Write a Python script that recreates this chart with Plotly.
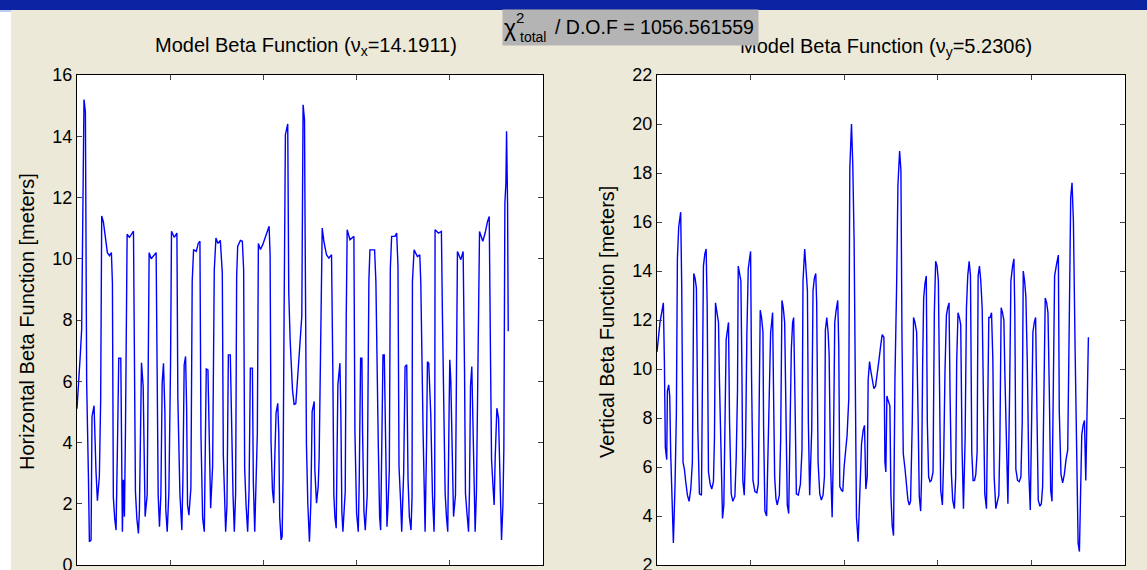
import plotly.graph_objs as go

# horizontal beta function (model)
sx = [0, 0.7, 2.2, 3.6, 5.0, 6.1, 7.5, 9.0, 10.4, 12.2, 13.3, 15.1, 16.1, 18.3, 19.4, 20.4, 21.9, 24.0, 25.4, 26.5,
      28.3, 30.1, 32.6, 34.8, 36.9, 38.0, 39.0, 40.5, 41.9, 43.4, 44.8, 47.0, 47.7, 48.7, 49.8, 50.9, 52.0, 53.8, 56.3, 60.6,
      61.3, 62.7, 64.2, 65.9, 67.0, 68.1, 69.2, 71.0, 72.0, 73.1, 75.3, 76.3, 77.4, 79.6, 84.9, 86.0, 87.1, 88.5, 90.0, 91.4,
      92.8, 94.3, 95.3, 96.8, 98.6, 100.4, 101.4, 104.3, 107.2, 108.2, 110.4, 112.5, 113.6, 115.0, 116.5, 117.6, 118.6, 120.1, 122.2, 123.6,
      125.1, 128.0, 130.1, 131.9, 133.0, 134.8, 136.6, 137.6, 138.7, 140.5, 141.9, 143.4, 145.5, 147.3, 149.1, 151.2, 153.8, 155.9, 157.0, 158.4,
      159.5, 160.9, 162.4, 164.5, 165.9, 167.4, 168.8, 170.2, 171.3, 172.4, 175.3, 177.4, 178.8, 179.9, 181.4, 183.1, 184.6, 186.0, 188.2, 189.2,
      190.7, 192.1, 193.5, 194.6, 196.8, 199.3, 201.8, 204.6, 206.1, 207.2, 208.2, 209.7, 211.1, 212.2, 213.6, 215.4, 216.5, 217.5, 219.0, 220.1,
      221.1, 222.2, 223.6, 226.1, 227.2, 228.7, 229.7, 231.2, 233.0, 234.8, 236.2, 238.0, 239.8, 241.2,
      242.6, 244.1, 244.8, 246.2, 247.7, 249.4, 250.9, 252.3, 254.5, 255.2, 257.0, 258.8, 259.8, 261.6, 263.1, 264.9, 267.7, 270.2, 273.1, 274.5,
      275.6, 276.7, 278.1, 279.9, 282.1, 283.1, 284.2, 285.3, 287.8, 288.9, 289.9, 292.8, 297.1, 298.2, 300.0, 301.8, 302.8, 304.3, 305.7, 306.4,
      307.9, 309.3, 311.4, 313.2, 314.3, 319.3, 320.7, 323.3, 324.7, 325.8, 327.2, 328.3, 329.7, 331.1, 332.6, 333.7, 335.1, 336.2, 337.6, 341.2,
      343.0, 344.4, 345.5, 347.3, 348.4, 350.5, 352.0, 353.8, 355.2, 356.6, 358.4, 359.5, 359.9, 361.7, 365.3, 367.8, 368.9, 371.4, 372.4, 373.5,
      375.0, 376.0, 377.4, 379.6, 381.4, 383.1, 383.8, 384.2, 387.8, 391.0, 392.1, 393.9, 395.0, 396.4, 397.8, 399.3, 400.0, 401.1, 402.9, 404.0,
      406.1, 407.2, 408.2, 411.8, 414.3, 415.8, 416.8, 418.3, 420.1, 421.1, 422.2, 423.6, 424.7, 426.2, 427.2, 428.6, 430.8, 431.9, 435.4, 437.9,
      440.5, 442.3, 443.7, 444.8, 446.6, 447.6, 448.7, 450.5, 452.3, 453.7, 455.5, 457.0, 458.0, 459.1, 460.2, 460.9, 462.0, 462.7]
betax = [5.1, 5.4, 6.15, 6.9, 7.7, 11.05, 15.2, 14.8, 5.9, 3.0, 0.76, 0.82, 4.85, 5.2, 3.8, 3.05, 2.1, 2.9, 5.4, 11.4,
         11.2, 10.7, 10.2, 10.1, 10.2, 9.2, 2.2, 1.5, 1.14, 3.87, 6.75, 6.75, 2.83, 1.09, 2.78, 1.58, 4.36, 10.8, 10.7, 10.9,
         8.1, 2.4, 1.53, 1.03, 1.8, 4.96, 6.6, 5.83, 2.78, 1.58, 2.29, 6.2, 10.2, 10.0, 10.2, 6.3, 2.29, 1.25, 2.29, 5.94,
         6.59, 5.0, 1.8, 1.09, 2.4, 6.64, 10.9, 10.7, 10.84, 5.45, 2.34, 1.14, 2.72, 6.54, 6.81, 5.17, 1.96, 1.63, 2.51, 9.26,
         10.3, 10.24, 10.5, 10.57, 4.25, 1.53, 1.09, 3.65, 6.4, 6.37, 4.19, 1.85, 3.21, 9.64, 10.68, 10.5, 10.6, 9.53, 3.59, 1.96,
         1.09, 1.96, 6.86, 6.86, 3.92, 2.29, 1.09, 2.34, 9.42, 10.4, 10.6, 10.57, 9.64, 3.16, 1.96, 1.09, 2.4, 6.43, 6.43, 2.72,
         1.09, 2.94, 4.3, 10.5, 10.3, 10.46, 10.68, 10.9, 11.06, 10.13, 4.03, 2.45, 2.02, 3.49, 4.96, 5.28, 4.3, 1.58, 0.82, 0.93,
         2.89, 8.17, 14.05, 14.4, 8.9, 7.35, 6.54, 5.72, 5.23, 5.28, 5.88, 6.7, 7.52, 8.12,
         15.03, 14.54, 10.73, 3.92, 1.96, 0.76, 2.02, 5.01, 5.34, 3.1, 2.02, 2.56, 3.49, 7.57, 11.0, 10.57, 10.13, 10.02, 10.13, 6.32,
         2.29, 1.58, 1.2, 5.88, 6.59, 4.96, 1.74, 1.09, 2.4, 8.12, 10.95, 10.62, 10.73, 4.36, 1.69, 1.09, 2.72, 6.75, 6.75, 4.36,
         1.74, 1.14, 2.29, 9.31, 10.29, 10.29, 9.26, 3.87, 1.58, 1.14, 3.87, 6.86, 6.86, 3.81, 1.25, 1.91, 3.1, 9.69, 10.73, 10.73,
         10.84, 9.75, 3.21, 2.02, 1.09, 3.0, 6.48, 6.54, 2.78, 1.58, 1.14, 2.23, 9.26, 10.29, 10.07, 10.13, 9.2, 4.25, 1.8, 1.09,
         3.81, 6.64, 6.59, 4.9, 2.29, 1.09, 2.3, 10.95, 10.84, 10.89, 8.12, 4.47, 2.34, 1.58, 1.09, 5.17, 6.7, 5.99, 2.78, 1.58,
         2.29, 6.21, 10.24, 9.97, 10.24, 6.37, 2.34, 1.74, 1.09, 2.4, 5.83, 6.48, 4.9, 2.23, 1.09, 2.4, 8.06, 10.89, 10.57, 10.84,
         11.22, 11.38, 6.7, 3.43, 2.45, 1.96, 3.49, 5.12, 4.79, 2.56, 0.82, 1.96, 3.81, 11.82, 12.47, 14.16, 11.76, 7.63]

# vertical beta function (model)
sy = [0, 1.4, 3.2, 5.0, 6.8, 7.9, 8.9, 10.4, 11.1, 12.5, 13.6, 14.6, 16.1, 17.5, 19.3, 20.7, 21.8, 23.2, 25.3, 26.4,
      27.8, 29.3, 30.7, 32.5, 34.3, 36.1, 37.8, 39.3, 40.7, 42.1, 43.6, 45.3, 47.5, 48.6, 49.6, 51.1, 52.5, 53.6, 55.0, 56.8,
      58.5, 60.3, 61.4, 62.5, 64.3, 65.7, 66.8, 68.5, 70.0, 71.4, 72.8, 73.9, 75.3, 76.4, 77.5, 79.3, 81.0, 83.2, 84.6, 86.0,
      86.8, 88.2, 89.6, 90.7, 91.7, 93.2, 94.6, 96.0, 97.5, 98.9, 100.0, 101.0, 102.5, 104.6, 106.7, 108.2, 109.2, 110.3, 111.7, 113.2,
      113.9, 115.3, 117.1, 118.5, 120.0, 121.4, 122.5, 123.5, 124.6, 125.7, 127.1, 128.5, 130.7, 132.1, 133.5, 134.9, 136.4, 137.4, 139.2, 140.7,
      142.1, 143.5, 144.9, 146.0, 147.4, 148.9, 151.0, 153.2, 154.9, 156.0, 157.8, 159.2, 160.7, 161.7, 163.1, 165.3, 166.7, 168.1, 169.6, 170.6,
      172.1, 173.9, 175.6, 177.4, 178.9, 179.9, 181.4, 182.8, 183.9, 185.3, 187.1, 188.5, 189.9, 191.4, 193.1, 194.2, 195.3, 197.1, 198.5, 199.9,
      201.3, 203.1, 204.9, 206.0, 207.8, 209.2, 210.6, 211.7, 213.1, 214.9, 216.7, 218.5, 220.3, 221.7, 223.1, 224.6, 225.6, 227.1, 228.1, 229.9,
      231.7, 233.5, 235.3, 237.1, 238.8, 240.6, 242.4, 243.5, 244.5, 245.6, 247.0, 248.8, 249.9, 251.3, 252.7, 254.2, 256.0, 257.4, 259.2, 260.6,
      261.7, 263.1, 264.9, 266.3, 268.1, 269.5, 270.9, 272.7, 274.1, 275.6, 277.4, 278.8, 280.2, 281.7, 282.7, 283.8, 284.9, 286.3, 287.7, 288.8,
      290.2, 291.7, 293.1, 294.9, 296.3, 297.7, 299.2, 300.6, 302.0, 303.1, 304.9, 306.3, 307.7, 309.2, 310.6, 312.0, 313.1, 314.5, 315.9, 317.7,
      319.1, 320.2, 321.6, 323.1, 324.5, 325.9, 327.4, 329.2, 330.6, 332.0, 333.5, 334.9, 336.3, 337.7, 339.2, 340.6, 342.0, 343.1, 344.5, 345.9,
      347.4, 348.8, 350.2, 352.0, 353.4, 354.5, 355.9, 357.4, 358.8, 360.2, 362.0, 363.8, 365.2, 366.3, 367.7, 369.1, 370.6, 371.6, 373.1, 374.9,
      376.7, 378.1, 379.9, 381.3, 382.3, 383.4, 385.2, 387.0, 388.8, 390.2, 391.3, 392.7, 394.1, 395.6, 397.3, 398.8, 400.2, 401.6, 403.1, 404.5,
      405.9, 407.3, 409.1, 410.6, 412.0, 413.4, 414.8, 416.3, 417.7, 419.1, 420.6, 422.0, 423.4, 424.8, 427.0, 428.8, 429.8, 431.6, 433.4, 435.2,
      437.0, 438.8, 440.6, 442.0, 443.4, 444.9, 446.7, 448.1, 449.9, 451.3, 452.4, 453.8, 455.2, 456.7, 458.1, 459.5, 460.9]
betay = [10.7, 11.3, 11.9, 12.3, 12.7, 10.3, 6.8, 6.3, 9.1, 9.35, 8.9, 6.6, 4.8, 2.9, 5.3, 8.2, 14.5, 15.8, 16.4, 13.4,
         6.2, 5.9, 5.4, 4.85, 4.6, 5.1, 6.2, 13.9, 13.7, 13.3, 7.6, 4.9, 4.85, 9.4, 14.2, 14.7, 14.9, 12.6, 5.8, 5.3,
         5.1, 5.4, 7.2, 12.7, 12.3, 11.9, 9.4, 6.1, 3.9, 4.45, 7.5, 11.2, 11.6, 11.9, 7.85, 4.9, 4.6, 4.8, 6.35, 9.1,
         14.2, 13.9, 13.6, 10.0, 5.45, 4.85, 6.8, 11.4, 14.1, 14.5, 14.8, 9.7, 5.45, 5.0, 4.95, 5.3, 9.35, 12.4, 12.1, 11.5,
         7.6, 4.2, 4.0, 6.55, 9.2, 11.5, 11.9, 12.3, 8.75, 5.6, 4.7, 4.45, 4.85, 7.1, 12.8, 12.5, 11.9, 8.9, 4.45, 4.1,
         6.8, 10.8, 11.9, 12.1, 8.8, 4.9, 4.85, 5.3, 6.7, 13.6, 14.9, 14.2, 13.2, 7.85, 4.85, 7.5, 13.2, 13.7, 13.9, 12.7,
         6.2, 4.9, 4.65, 4.85, 5.6, 11.6, 12.1, 11.5, 10.6, 6.3, 3.95, 6.8, 11.9, 12.4, 12.8, 10.9, 5.2, 5.05, 5.0, 6.0,
         6.7, 7.3, 8.8, 18.2, 20.0, 18.3, 15.2, 8.0, 3.95, 2.95, 4.9, 6.95, 7.5, 7.7, 5.1, 5.6, 9.55, 10.3, 10.0, 9.6,
         9.2, 9.3, 9.75, 10.35, 10.9, 11.4, 11.3, 6.2, 5.8, 8.9, 8.7, 8.5, 4.85, 3.6, 3.2, 9.55, 13.4, 17.5, 18.9, 18.1,
         11.45, 6.55, 5.95, 5.25, 4.65, 4.45, 4.6, 7.8, 12.1, 11.9, 11.5, 8.4, 4.8, 4.2, 5.6, 10.2, 12.9, 13.5, 13.8, 7.85,
         5.6, 5.4, 5.45, 5.8, 12.3, 14.4, 14.2, 13.6, 9.0, 5.05, 4.45, 6.4, 9.95, 12.2, 12.5, 12.7, 8.95, 5.75, 4.65, 4.3,
         5.6, 10.35, 12.3, 12.1, 11.8, 6.8, 4.3, 7.15, 12.5, 13.8, 14.4, 13.8, 6.6, 5.45, 5.45, 5.7, 6.6, 13.8, 14.2, 13.6,
         12.5, 7.3, 4.9, 4.3, 8.0, 12.1, 12.1, 12.3, 10.4, 5.6, 4.3, 4.65, 4.85, 7.0, 12.5, 12.3, 12.0, 9.9, 7.0, 4.5,
         9.0, 13.6, 14.2, 14.5, 12.3, 5.9, 5.45, 5.4, 5.6, 7.85, 14.0, 13.6, 12.95, 10.3, 5.7, 4.25, 7.8, 11.5, 11.9, 12.1,
         8.3, 4.65, 4.4, 4.5, 5.2, 8.3, 12.9, 12.7, 12.3, 9.2, 5.05, 4.6, 10.9, 13.8, 14.3, 14.65, 8.25, 5.7, 5.35, 5.7,
         6.3, 6.7, 12.4, 17.0, 17.6, 16.0, 10.8, 7.0, 2.9, 2.55, 4.65, 7.3, 7.7, 7.9, 5.45, 8.05, 11.3]

nux = 14.1911
nuy = 5.2306
chi2dof = 1056.561559

W, H = 1147, 570
fnt = 'Liberation Sans, Arial, sans-serif'


def px(x):
    return x / W


def py(y):
    return 1 - y / H


lineX = go.Scatter(x=sx, y=betax, mode='lines', line=dict(color='#0000ff', width=1.4), xaxis='x', yaxis='y')
lineY = go.Scatter(x=sy, y=betay, mode='lines', line=dict(color='#0000ff', width=1.4), xaxis='x2', yaxis='y2')

ax = dict(range=[0, 500], dtick=100, showticklabels=False, ticks='inside', ticklen=5, mirror='ticks',
          showline=True, linecolor='black', linewidth=1, showgrid=False, zeroline=False)
ay = dict(dtick=2, ticks='inside', ticklen=5, mirror='ticks', showline=True, linecolor='black', linewidth=1,
          showgrid=False, zeroline=False, automargin=False, ticklabeloverflow='allow',
          tickfont=dict(family=fnt, size=18, color='black'), domain=[py(565), py(75)])

layout = go.Layout(
    width=W, height=H, margin=dict(l=0, r=0, t=0, b=0, autoexpand=False),
    paper_bgcolor='#ece9d8', plot_bgcolor='white', showlegend=False,
    xaxis=dict(ax, domain=[px(77), px(543)]),
    yaxis=dict(ay, range=[0, 16]),
    xaxis2=dict(ax, domain=[px(657), px(1125)], anchor='y2'),
    yaxis2=dict(ay, range=[2, 22], anchor='x2'),
)

fig = go.Figure(data=[lineX, lineY], layout=layout)

# window bits: blue title bar and white strip at left
fig.add_shape(type='rect', xref='paper', yref='paper', x0=0, x1=1, y0=py(10), y1=1,
              fillcolor='#0b22a2', line_width=0, layer='above')
fig.add_shape(type='rect', xref='paper', yref='paper', x0=0, x1=px(11), y0=0, y1=py(10),
              fillcolor='white', line_width=0, layer='above')
fig.add_shape(type='line', xref='paper', yref='paper', x0=0, x1=px(11), y0=py(11), y1=py(11),
              line=dict(color='#7a96df', width=1), layer='above')


def note(txt, x, y, size, **kw):
    fig.add_annotation(text=txt, xref='paper', yref='paper', x=px(x), y=py(y), showarrow=False,
                       xanchor=kw.pop('xanchor', 'center'), yanchor='middle',
                       font=dict(family=fnt, size=size, color='black'), **kw)


note('Model Beta Function (\u03bd<sub>x</sub>=%.4f)' % nux, 306, 46, 20)
note('Model Beta Function (\u03bd<sub>y</sub>=%.4f)' % nuy, 886, 47, 20)
note('Horizontal Beta Function [meters]', 27, 322, 20, textangle=-90)
note('Vertical Beta Function [meters]', 607, 322, 20, textangle=-90)

# chi2 box on top of the right title
note(' ', 630.5, 27.5, 18, width=255, height=35, bgcolor='#b4b4b4', borderpad=0)
note('\u03c7', 510, 28, 23)
note('2', 520, 18, 15)
note('total', 533, 37, 14)
note('/ D.O.F = %.6f' % chi2dof, 553, 27, 19.5, xanchor='left')

# no page margin, figure pinned to the top-left corner
js = ("document.body.style.margin='0';document.body.style.overflow='hidden';"
      "var d=document.getElementById('{plot_id}');d.style.position='fixed';d.style.left='0';d.style.top='0';")
fig.write_html('out.html', post_script=js, config={'displayModeBar': False})
